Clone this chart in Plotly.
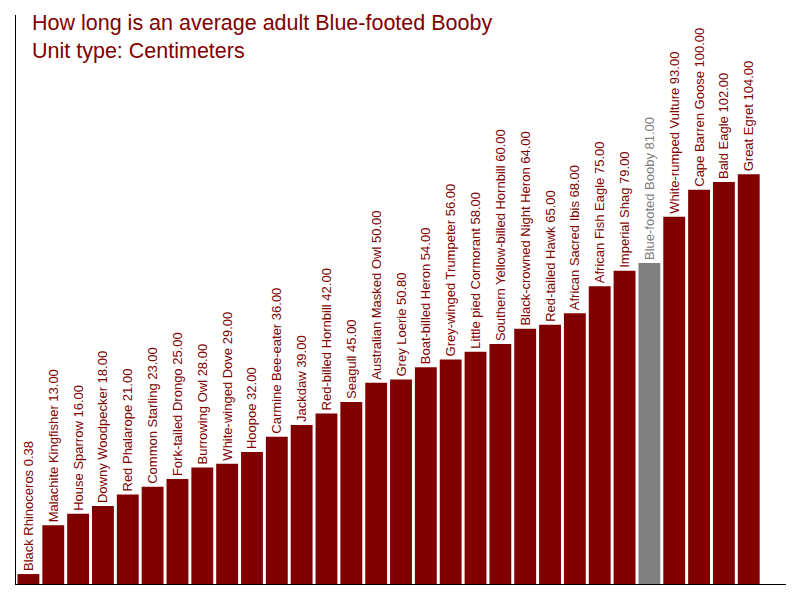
import plotly.graph_objects as go

# bird names and average adult length (cm)
birds = ['Black Rhinoceros', 'Malachite Kingfisher', 'House Sparrow', 'Downy Woodpecker',
         'Red Phalarope', 'Common Starling', 'Fork-tailed Drongo', 'Burrowing Owl',
         'White-winged Dove', 'Hoopoe', 'Carmine Bee-eater', 'Jackdaw',
         'Red-billed Hornbill', 'Seagull', 'Australian Masked Owl', 'Grey Loerie',
         'Boat-billed Heron', 'Grey-winged Trumpeter', 'Little pied Cormorant',
         'Southern Yellow-billed Hornbill', 'Black-crowned Night Heron', 'Red-tailed Hawk',
         'African Sacred Ibis', 'African Fish Eagle', 'Imperial Shag', 'Blue-footed Booby',
         'White-rumped Vulture', 'Cape Barren Goose', 'Bald Eagle', 'Great Egret']
lengths = [0.38, 13, 16, 18, 21, 23, 25, 28, 29, 32, 36, 39, 42, 45, 50, 50.8,
           54, 56, 58, 60, 64, 65, 68, 75, 79, 81, 93, 100, 102, 104]
highlight = 'Blue-footed Booby'

MAROON = '#800000'
GREY = '#808080'
Y_MIN, Y_MAX = -2.2, 145.3

colors = [GREY if b == highlight else MAROON for b in birds]
labels = [f'{b} {v:.2f}' for b, v in zip(birds, lengths)]

# bars start at the bottom of the axis, like the original
fig = go.Figure(go.Bar(
    x=birds,
    y=[v - Y_MIN for v in lengths],
    base=Y_MIN,
    marker=dict(color=colors, line=dict(width=0)),
    text=labels,
    textposition='outside',
    textangle=-90,
    constraintext='none',
    cliponaxis=False,
    outsidetextfont=dict(family='Arial, Liberation Sans, sans-serif', size=13, color=colors),
    customdata=lengths,
    hovertemplate='%{x}: %{customdata}<extra></extra>',
))

fig.update_layout(
    width=800, height=600,
    margin=dict(l=8, r=22, t=7, b=24),
    plot_bgcolor='white', paper_bgcolor='white',
    bargap=0.12,
    showlegend=False,
    font=dict(family='Arial, Liberation Sans, sans-serif'),
)
fig.update_xaxes(type='category', range=[-0.5, 30.5], showticklabels=False, ticks='',
                 showgrid=False, showline=True, linecolor='black', linewidth=1)
fig.update_yaxes(range=[Y_MIN, Y_MAX], showticklabels=False, ticks='', showgrid=False,
                 zeroline=False, showline=True, linecolor='black', linewidth=1)

# two-line title, top left
fig.add_annotation(text='How long is an average adult Blue-footed Booby', xref='paper', yref='paper',
                   x=0.018, y=0.986, xanchor='left', yanchor='middle', showarrow=False,
                   font=dict(size=21.5, color=MAROON))
fig.add_annotation(text='Unit type: Centimeters', xref='paper', yref='paper',
                   x=0.018, y=0.937, xanchor='left', yanchor='middle', showarrow=False,
                   font=dict(size=21.5, color=MAROON))

fig.write_html('out.html')
